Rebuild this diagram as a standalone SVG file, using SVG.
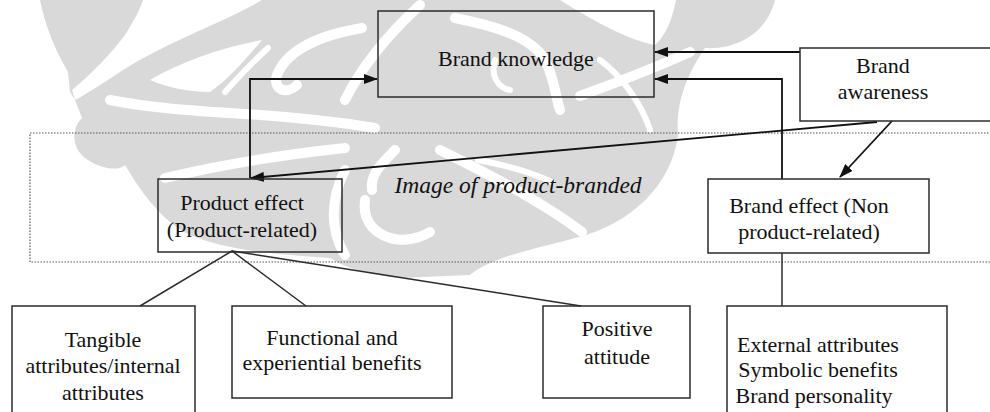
<svg xmlns="http://www.w3.org/2000/svg" width="990" height="412" viewBox="0 0 990 412">
<style>
.bg{fill:#ffffff}
.wm{fill:#d9d9d9;stroke:none}
.wmw{fill:#ffffff;stroke:none}
.wmc{fill:none;stroke:#ffffff;stroke-width:10;stroke-linecap:round}
.wmt{fill:none;stroke:#ffffff;stroke-width:6;stroke-linecap:round}
.box{fill:none;stroke:#2b2b2b;stroke-width:1.5}
.t{font-family:"Liberation Serif","Times New Roman",serif;font-size:22px;fill:#111;text-anchor:middle}
.it{font-family:"Liberation Serif","Times New Roman",serif;font-size:23.5px;font-style:italic;fill:#111;text-anchor:middle}
.ln{fill:none;stroke:#2b2b2b;stroke-width:1.5}
.ar{fill:none;stroke:#111;stroke-width:1.8;marker-end:url(#ah)}
.dot{fill:none;stroke:#555;stroke-width:1.2;stroke-dasharray:1.5 1.5}
</style>
<defs>
<marker id="ah" markerWidth="14" markerHeight="10" refX="13" refY="5" orient="auto" markerUnits="userSpaceOnUse">
<path d="M0,0 L14,5 L0,10 Z" fill="#111"/>
</marker>
</defs>
<rect class="bg" x="0" y="0" width="990" height="412"/>
<g id="watermark">
<path class="wm" d="M40,0 H775 C768,30 740,50 705,48 C690,70 675,100 678,135 C672,185 630,225 575,238 C530,250 490,258 470,275 L400,278 C370,275 345,268 330,258 C290,255 230,252 190,235 C160,220 140,190 125,165 C118,172 100,168 88,160 C72,150 70,130 82,118 L75,100 L70,92 L68,72 C55,50 45,25 40,0 Z"/>
<path class="wmw" d="M143,0 H262 C230,20 170,40 120,72 C100,85 85,95 75,100 L72,90 C90,75 110,55 125,35 C133,22 140,10 143,0 Z"/>
<path class="wmw" d="M150,80 C180,62 220,48 262,40 C245,60 230,78 210,92 C190,92 168,88 150,80 Z"/>
<path class="wmw" d="M560,0 H676 C672,20 666,35 655,45 C630,40 600,25 560,0 Z"/>
<path class="wmc" d="M110,100 C160,110 220,112 260,115 C300,118 340,122 375,128"/>
<path class="wmt" d="M225,92 C240,75 255,60 268,48"/>
<path class="wmc" d="M362,28 C320,35 287,50 277,75 C272,90 287,95 297,85"/>
<path class="wmc" d="M345,100 C360,70 382,40 420,5"/>
<path class="wmc" d="M455,18 C490,25 530,35 545,60 C555,80 555,95 560,110"/>
<path class="wmt" d="M495,60 C490,75 498,88 510,90"/>
<path class="wmc" d="M690,52 C650,70 610,85 580,96"/>
<path class="wmt" d="M600,60 C620,75 640,100 650,130"/>
<path class="wmc" d="M165,178 C220,165 280,155 345,148"/>
<path class="wmc" d="M345,170 C330,200 330,230 345,255"/>
<path class="wmc" d="M365,200 C360,235 400,250 430,232"/>
<path class="wmc" d="M440,150 C480,170 540,200 582,232"/>
<path class="wmt" d="M478,160 C505,165 530,172 552,182"/>
<path class="wmc" d="M395,150 C380,165 370,175 372,190"/>
</g>
<rect class="dot" x="30" y="133" width="975" height="129"/>
<text class="it" x="518" y="193">Image of product-branded</text>
<g id="connectors">
<path class="ar" d="M800,52 H655"/>
<path class="ar" d="M782,179 V79 H655"/>
<path class="ar" d="M250,178 V79 H377"/>
<path class="ar" d="M877,122 L251,178"/>
<path class="ar" d="M892,121 L840,177"/>
<path class="ln" d="M140,306 L232,251 L306,306"/>
<path class="ln" d="M232,251 L581,306"/>
<path class="ln" d="M782,253 V306"/>
</g>
<g id="brand-knowledge">
<rect class="box" x="378" y="11" width="276" height="86"/>
<text class="t" x="516" y="66">Brand knowledge</text>
</g>
<g id="brand-awareness">
<rect class="box" x="800" y="48" width="195" height="73"/>
<text class="t" x="883" y="73">Brand</text>
<text class="t" x="883" y="99">awareness</text>
</g>
<g id="product-effect">
<rect class="box" x="158" y="179" width="184" height="73"/>
<text class="t" x="242" y="210">Product effect</text>
<text class="t" x="242" y="237">(Product-related)</text>
</g>
<g id="brand-effect">
<rect class="box" x="708" y="179" width="221" height="74"/>
<text class="t" x="809" y="213">Brand effect (Non</text>
<text class="t" x="809" y="239">product-related)</text>
</g>
<g id="tangible">
<rect class="box" x="12" y="306" width="183" height="120"/>
<text class="t" x="103" y="347">Tangible</text>
<text class="t" x="103" y="373">attributes/internal</text>
<text class="t" x="103" y="400">attributes</text>
</g>
<g id="functional">
<rect class="box" x="232" y="306" width="220" height="92"/>
<text class="t" x="332" y="345">Functional and</text>
<text class="t" x="332" y="370">experiential benefits</text>
</g>
<g id="positive">
<rect class="box" x="543" y="306" width="147" height="92"/>
<text class="t" x="617" y="336">Positive</text>
<text class="t" x="617" y="364">attitude</text>
</g>
<g id="brand-effect-items">
<rect class="box" x="727" y="306" width="220" height="120"/>
<text class="t" x="818" y="352">External attributes</text>
<text class="t" x="818" y="377">Symbolic benefits</text>
<text class="t" x="814" y="403">Brand personality</text>
</g>
</svg>
